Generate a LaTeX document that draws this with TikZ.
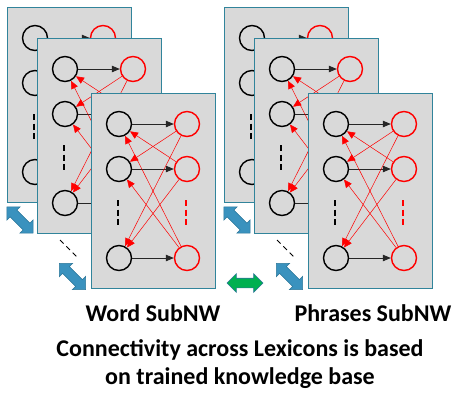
\documentclass[tikz,border=0pt]{standalone}
\usepackage{fontspec}
\setmainfont{Carlito}
\usetikzlibrary{arrows.meta,shapes.arrows}

\definecolor{panelgray}{HTML}{D9D9D9}
\definecolor{panelline}{HTML}{31849B}
\definecolor{linkblue}{HTML}{3A92BE}
\definecolor{linkedge}{HTML}{2C7699}
\definecolor{mapgreen}{HTML}{00B050}

\tikzset{
  panel/.style={rectangle, draw=panelline, line width=0.9pt, fill=panelgray,
    minimum width=124pt, minimum height=195pt, anchor=north west, inner sep=0pt},
  inode/.style={circle, draw=black, line width=1.4pt, minimum size=25pt, inner sep=0pt},
  onode/.style={circle, draw=red, line width=1.4pt, minimum size=25pt, inner sep=0pt},
  fwdlink/.style={draw=black!85, line width=0.8pt, -{Triangle[length=8pt,width=6.5pt]}},
  fbklink/.style={draw=red, line width=0.5pt, -{Triangle[length=8pt,width=7pt]}},
  vdots/.style={line width=1.1pt, dash pattern=on 6pt off 3.5pt},
  layerlink/.style={double arrow, fill=linkblue, draw=linkedge, line width=0.6pt,
    minimum height=37pt, inner xsep=0pt, inner ysep=4.5pt,
    double arrow head extend=4.5pt, rotate=-45},
  crosslink/.style={double arrow, fill=mapgreen, draw=linkedge, line width=0.6pt,
    minimum height=36pt, inner xsep=0pt, inner ysep=4.5pt,
    double arrow head extend=4.5pt},
  gapdots/.style={line width=1pt, dash pattern=on 5pt off 4pt},
  titletext/.style={font=\fontsize{24}{28}\selectfont\bfseries, align=center, inner sep=0pt}
}

% one sub-network layer: prefix, x, y of its top left corner
\newcommand{\subnw}[3]{%
  \begin{scope}[shift={(#2,#3)}]
    \node[panel] (#1box) at (0,0) {};
    \node[inode] (#1b1) at (28,31) {};
    \node[inode] (#1b2) at (28,76) {};
    \node[inode] (#1b3) at (28,165) {};
    \node[onode] (#1c1) at (96,31) {};
    \node[onode] (#1c2) at (96,76) {};
    \node[onode] (#1c3) at (96,165) {};
    \draw[vdots] (27,107) -- (27,132);
    \draw[vdots,red] (95,107) -- (95,132);
    \draw[fwdlink] (#1b1) -- (#1c1);
    \draw[fwdlink] (#1b2) -- (#1c2);
    \draw[fwdlink] (#1b3) -- (#1c3);
    \draw[fbklink] (#1c1) -- (#1b2);
    \draw[fbklink] (#1c1) -- (#1b3);
    \draw[fbklink] (#1c2) -- (#1b1);
    \draw[fbklink] (#1c2) -- (#1b3);
    \draw[fbklink] (#1c3) -- (#1b1);
    \draw[fbklink] (#1c3) -- (#1b2);
  \end{scope}}

\begin{document}
\begin{tikzpicture}[x=1pt,y=-1pt]
  \useasboundingbox (0,0) rectangle (453,392);
  % word stack
  \subnw{wa}{7}{7}
  \subnw{wb}{37}{38}
  \subnw{wc}{91}{93}
  % phrases stack
  \subnw{pa}{224}{7}
  \subnw{pb}{254}{38}
  \subnw{pc}{308}{93}
  % links between the layers
  \node[layerlink] (wl1) at (20,220) {};
  \node[layerlink] (wl2) at (72.5,276.5) {};
  \node[layerlink] (pl1) at (237,220) {};
  \node[layerlink] (pl2) at (289.5,276.5) {};
  \coordinate (wg1) at (60,240);
  \coordinate (wg2) at (78,258);
  \coordinate (pg1) at (277,240);
  \coordinate (pg2) at (295,258);
  \draw[gapdots] (wg1) -- (wg2);
  \draw[gapdots] (pg1) -- (pg2);
  % link across the two stacks
  \node[crosslink] (across) at (245,283) {};
  % names
  \node[titletext] (wname) at (153,313) {Word SubNW};
  \node[titletext] (pname) at (373,313) {Phrases SubNW};
  \node[titletext] (note) at (240,364) {Connectivity across Lexicons is based\\on trained knowledge base};
\end{tikzpicture}
\end{document}
